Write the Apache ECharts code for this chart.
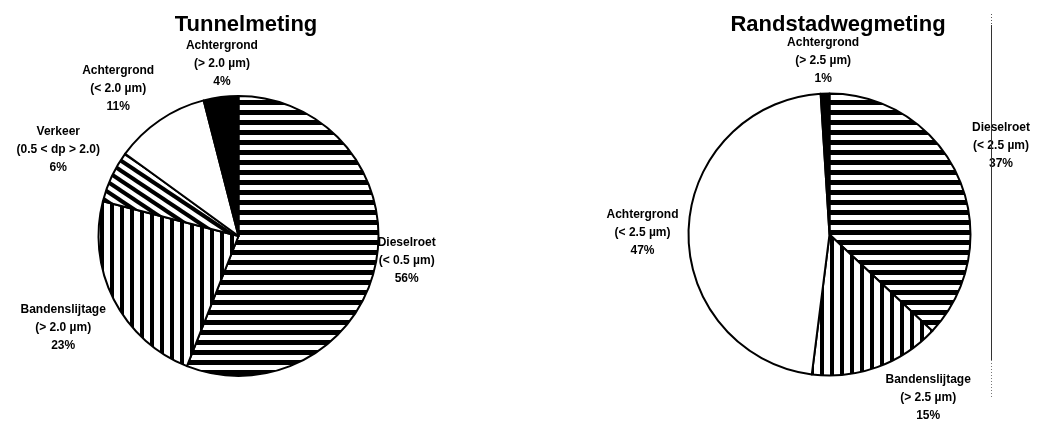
<!DOCTYPE html>
<html>
<head>
<meta charset="utf-8">
<script src="https://cdn.jsdelivr.net/npm/echarts@6/dist/echarts.min.js"></script>
<style>
  html, body { margin: 0; padding: 0; background: #fff; }
  #chart { width: 1037px; height: 423px; }
</style>
</head>
<body>
<div id="chart"></div>
<script>
// Tunnel measurement: source shares of fine dust (%)
const tunnelNames = ['Dieselroet', 'Bandenslijtage', 'Verkeer', 'Achtergrond', 'Achtergrond'];
const tunnelRanges = ['(< 0.5 µm)', '(> 2.0 µm)', '(0.5 < dp > 2.0)', '(< 2.0 µm)', '(> 2.0 µm)'];
const tunnelValues = [56, 23, 6, 11, 4];

// Randstad road measurement: source shares of fine dust (%)
const roadNames = ['Dieselroet', 'Bandenslijtage', 'Achtergrond', 'Achtergrond'];
const roadRanges = ['(< 2.5 µm)', '(> 2.5 µm)', '(< 2.5 µm)', '(> 2.5 µm)'];
const roadValues = [37, 15, 47, 1];

const FONT = '"Liberation Sans", Arial, sans-serif';

// Hatch tiles used as slice fills
function tile(w, h, draw) {
  const c = document.createElement('canvas');
  c.width = w; c.height = h;
  const g = c.getContext('2d');
  g.fillStyle = '#fff';
  g.fillRect(0, 0, w, h);
  g.fillStyle = '#000';
  g.strokeStyle = '#000';
  draw(g);
  return { image: c, repeat: 'repeat' };
}
const hStripes = tile(10, 10, g => g.fillRect(0, 0, 10, 5));
const vStripes = tile(10, 10, g => g.fillRect(0, 0, 4, 10));
const dStripes = tile(15, 10, g => {
  g.lineWidth = 4;
  for (let k = -2; k <= 2; k++) {
    g.beginPath();
    g.moveTo(-15, -10 + 10 * k);
    g.lineTo(30, 20 + 10 * k);
    g.stroke();
  }
});

const tunnelFills = [hStripes, vStripes, dStripes, '#fff', '#000'];
const roadFills = [hStripes, vStripes, '#fff', '#000'];

// Label placement around each pie: distance from centre and angular nudge (deg)
const tunnelLabelDist = [170, 198, 200, 190, 173];
const tunnelLabelNudge = [-2.4, -0.7, 0.5, -5.1, 1.7];
const roadLabelDist = [193, 191, 187, 174];
const roadLabelNudge = [-3.9, -11.3, -1.3, -0.3];

const tunnelCenter = [238.5, 236], tunnelRadius = 140;
const roadCenter = [829.5, 234.5], roadRadius = 141;

function buildData(names, ranges, values, fills) {
  return values.map((v, i) => ({
    name: names[i],
    value: v,
    range: ranges[i],
    itemStyle: { color: fills[i], borderColor: '#000', borderWidth: 2 }
  }));
}

function placer(values, center, dist, nudge) {
  const total = values.reduce((a, b) => a + b, 0);
  return function (p) {
    const i = p.dataIndex;
    const before = values.slice(0, i).reduce((a, b) => a + b, 0);
    const deg = (before + values[i] / 2) / total * 360 + nudge[i];
    const rad = deg * Math.PI / 180;
    return {
      x: center[0] + dist[i] * Math.sin(rad),
      y: center[1] - dist[i] * Math.cos(rad),
      align: 'center',
      verticalAlign: 'middle'
    };
  };
}

function pieSeries(names, ranges, values, fills, center, radius, dist, nudge) {
  return {
    type: 'pie',
    center: center,
    radius: radius,
    startAngle: 90,
    clockwise: true,
    avoidLabelOverlap: false,
    silent: true,
    label: {
      show: true,
      position: 'outside',
      color: '#000',
      fontFamily: FONT,
      fontWeight: 'bold',
      fontSize: 12,
      lineHeight: 18,
      formatter: p => p.name + '\n' + p.data.range + '\n' + p.value + '%'
    },
    labelLine: { show: false },
    labelLayout: placer(values, center, dist, nudge),
    data: buildData(names, ranges, values, fills)
  };
}

const chart = echarts.init(document.getElementById('chart'), null, { renderer: 'canvas' });
chart.setOption({
  animation: false,
  backgroundColor: '#fff',
  title: [
    { text: 'Tunnelmeting', left: 241, top: 9, textAlign: 'center',
      textStyle: { fontFamily: FONT, fontWeight: 'bold', fontSize: 22, color: '#000' } },
    { text: 'Randstadwegmeting', left: 833, top: 9, textAlign: 'center',
      textStyle: { fontFamily: FONT, fontWeight: 'bold', fontSize: 22, color: '#000' } }
  ],
  series: [
    pieSeries(tunnelNames, tunnelRanges, tunnelValues, tunnelFills, tunnelCenter, tunnelRadius, tunnelLabelDist, tunnelLabelNudge),
    pieSeries(roadNames, roadRanges, roadValues, roadFills, roadCenter, roadRadius, roadLabelDist, roadLabelNudge)
  ],
  graphic: [
    { type: 'line', shape: { x1: 991.5, y1: 14, x2: 991.5, y2: 25 }, style: { stroke: '#555', lineWidth: 1, lineDash: [1, 2] }, z: 10 },
    { type: 'line', shape: { x1: 991.5, y1: 25, x2: 991.5, y2: 360 }, style: { stroke: '#333', lineWidth: 1 }, z: 10 },
    { type: 'line', shape: { x1: 991.5, y1: 360, x2: 991.5, y2: 397 }, style: { stroke: '#777', lineWidth: 1, lineDash: [1, 2] }, z: 10 }
  ]
});
</script>
</body>
</html>
